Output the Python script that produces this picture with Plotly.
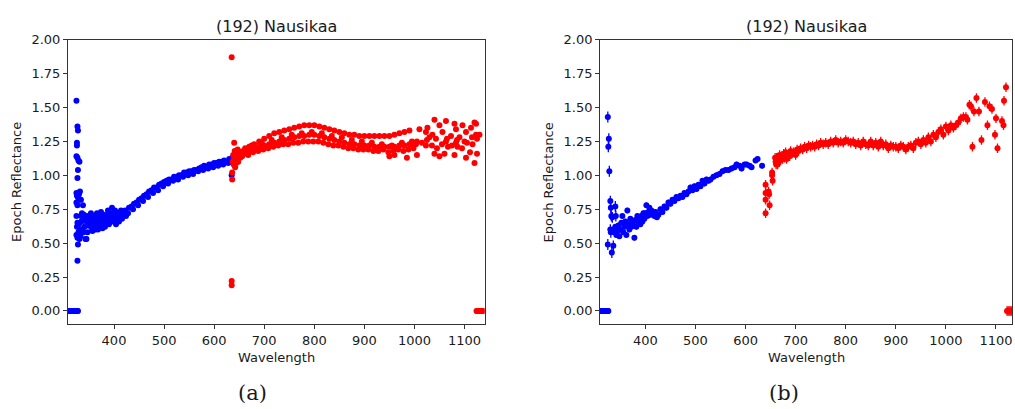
import plotly.graph_objects as go

# ---------------- data: panel (a) ----------------
a_blue_wl = [
    310, 311, 312, 313, 314, 315, 316, 317, 318, 319, 320, 321, 322, 323, 324, 325, 326, 327, 328,
    325, 327, 328, 326, 326, 325, 327, 329, 331, 328, 327, 325, 326, 328, 330, 332, 325, 327, 329, 331, 334,
    325, 327, 326, 325, 327, 329, 331, 333, 328, 327, 330, 332, 334, 336, 338, 340, 342, 335, 337, 339,
    341, 343, 345, 347, 349,
    345, 348, 350, 352, 354, 356, 358, 360, 362, 364, 366, 368, 370, 372, 374, 376, 378, 380, 382, 384,
    386, 388, 390, 392, 394, 396, 398, 400, 402, 404, 406, 408, 410, 412, 414, 416, 418, 420, 422, 424,
    355, 361, 367, 373, 379, 385, 391, 397, 403, 409, 357, 363, 371, 377, 383,
    430, 440, 450, 460, 470, 480, 490, 500, 510, 520, 530, 540, 550, 560, 570, 580, 590, 600, 610, 620, 630, 636,
    428, 438, 448, 458, 468, 478, 488, 498, 508, 518, 528, 538, 548, 558, 568, 578, 588, 598, 608, 618, 628, 634,
    435, 445, 455, 465, 475, 485, 495, 505, 515, 525, 535, 545, 555, 565, 575, 585, 595, 605, 615, 625,
    635,
]
a_blue_refl = [
    0.0, 0.0, 0.0, 0.0, 0.0, 0.0, 0.0, 0.0, 0.0, 0.0, 0.0, 0.0, 0.0, 0.0, 0.0, 0.0, 0.0, 0.0, 0.0,
    1.55, 1.36, 1.33, 1.24, 1.22, 1.14, 1.13, 1.11, 1.10, 1.04, 0.98, 0.87, 0.85, 0.84, 0.86, 0.88, 0.80, 0.78, 0.83, 0.82, 0.82,
    0.70, 0.65, 0.62, 0.56, 0.54, 0.58, 0.53, 0.55, 0.49, 0.37, 0.64, 0.60, 0.70, 0.72, 0.78, 0.71, 0.69, 0.66, 0.60, 0.58,
    0.62, 0.53, 0.53, 0.58, 0.63,
    0.66, 0.70, 0.63, 0.68, 0.72, 0.61, 0.66, 0.70, 0.64, 0.68, 0.72, 0.60, 0.65, 0.69, 0.73, 0.63, 0.67, 0.71, 0.62, 0.66,
    0.70, 0.74, 0.64, 0.68, 0.72, 0.76, 0.66, 0.70, 0.74, 0.64, 0.68, 0.72, 0.66, 0.70, 0.74, 0.68, 0.72, 0.71, 0.74, 0.70,
    0.65, 0.67, 0.69, 0.66, 0.65, 0.68, 0.66, 0.70, 0.69, 0.67, 0.59, 0.60, 0.62, 0.61, 0.64,
    0.76, 0.79, 0.82, 0.85, 0.88, 0.91, 0.93, 0.95, 0.97, 0.99, 1.00, 1.02, 1.03, 1.04, 1.05, 1.07, 1.08, 1.09, 1.10, 1.11, 1.12, 1.13,
    0.72, 0.75, 0.78, 0.81, 0.84, 0.87, 0.89, 0.92, 0.94, 0.96, 0.97, 0.99, 1.00, 1.01, 1.03, 1.04, 1.05, 1.06, 1.07, 1.08, 1.09, 1.10,
    0.77, 0.80, 0.83, 0.86, 0.89, 0.91, 0.94, 0.96, 0.97, 0.99, 1.00, 1.02, 1.03, 1.04, 1.06, 1.06, 1.08, 1.09, 1.10, 1.10,
    1.00,
]

a_red_wl = [
    635, 635, 635, 636, 636, 640,
    637, 638, 639, 640, 641, 642, 643, 644, 645, 646, 647, 648, 650, 652, 654, 656, 658, 660, 662, 664,
    670, 680, 690, 700, 710, 720, 730, 740, 750, 760, 770, 780, 790, 800, 810, 820, 830, 840, 850, 860,
    870, 880, 890, 900, 910, 920, 930, 940, 950, 960, 970, 980, 990,
    670, 680, 690, 700, 710, 720, 730, 740, 750, 760, 770, 780, 790, 800, 810, 820, 830, 840, 850, 860,
    870, 880, 890, 900, 910, 920, 930, 940, 950, 960, 970, 980, 990, 1000,
    668, 678, 688, 698, 708, 718, 728, 738, 748, 758, 768, 778, 788, 798, 808, 818, 828, 838, 848, 858,
    868, 878, 888, 898, 908, 918, 928, 938, 948, 958, 968, 978, 988, 998,
    675, 695, 715, 735, 755, 775, 795, 815, 835, 855, 875, 895, 915, 935, 955, 975, 995,
    950, 960, 985, 1005,
    1040, 1063, 1050, 1080, 1096, 1120, 1123, 1026, 1010, 1023, 1036, 1056, 1073, 1083, 1103, 1113, 1123, 1043, 1063, 1083,
    1100, 1116, 1040, 1050, 1060, 1080, 1103, 1111, 1125, 1120, 1003, 1023, 1067, 1086, 1030, 1090,
    1005, 1015, 1025, 1035, 1045, 1055, 1065, 1075, 1085, 1095, 1105, 1115, 1125, 1130,
    1124, 1126, 1128, 1130, 1132, 1134, 1136, 1138,
]
a_red_refl = [
    1.87, 0.22, 0.19, 0.97, 1.02, 1.24,
    1.10, 1.15, 1.08, 1.12, 1.18, 1.06, 1.14, 1.09, 1.16, 1.12, 1.19, 1.10, 1.15, 1.13, 1.17, 1.14, 1.18, 1.16, 1.20, 1.17,
    1.21, 1.23, 1.25, 1.27, 1.29, 1.31, 1.32, 1.33, 1.34, 1.35, 1.36, 1.37, 1.37, 1.37, 1.36, 1.35, 1.34, 1.33, 1.32, 1.31,
    1.30, 1.30, 1.29, 1.29, 1.29, 1.29, 1.29, 1.29, 1.29, 1.30, 1.31, 1.32, 1.33,
    1.18, 1.20, 1.21, 1.22, 1.23, 1.24, 1.25, 1.26, 1.27, 1.28, 1.29, 1.29, 1.30, 1.30, 1.29, 1.28, 1.27, 1.26, 1.25, 1.24,
    1.23, 1.23, 1.22, 1.22, 1.22, 1.21, 1.21, 1.21, 1.21, 1.21, 1.22, 1.22, 1.23, 1.23,
    1.15, 1.17, 1.18, 1.19, 1.20, 1.21, 1.22, 1.23, 1.23, 1.24, 1.24, 1.25, 1.25, 1.25, 1.25, 1.24, 1.23, 1.22, 1.22, 1.21,
    1.20, 1.20, 1.19, 1.19, 1.19, 1.18, 1.18, 1.19, 1.17, 1.18, 1.19, 1.18, 1.19, 1.20,
    1.22, 1.24, 1.26, 1.28, 1.30, 1.31, 1.32, 1.31, 1.29, 1.28, 1.26, 1.25, 1.24, 1.23, 1.22, 1.24, 1.25,
    1.14, 1.15, 1.13, 1.15,
    1.41, 1.40, 1.37, 1.38, 1.37, 1.39, 1.38, 1.35, 1.34, 1.32, 1.30, 1.32, 1.29, 1.34, 1.32, 1.35, 1.30, 1.27, 1.25, 1.24,
    1.25, 1.23, 1.16, 1.14, 1.16, 1.15, 1.13, 1.17, 1.16, 1.09, 1.23, 1.22, 1.21, 1.21, 1.28, 1.28,
    1.25, 1.24, 1.26, 1.22, 1.20, 1.23, 1.27, 1.22, 1.26, 1.20, 1.24, 1.28, 1.27, 1.30,
    0.0, 0.0, 0.0, 0.0, 0.0, 0.0, 0.0, 0.0,
]

# ---------------- data: panel (b) ----------------
b_blue_spike_wl = [325, 327, 326, 328, 330, 331, 332, 330, 331, 325, 333, 336, 340, 341, 334]
b_blue_spike_refl = [1.43, 1.27, 1.21, 1.03, 0.81, 0.76, 0.70, 0.60, 0.58, 0.49, 0.43, 0.48, 0.77, 0.70, 0.69]

b_blue_wl = [
    311, 312, 313, 314, 315, 316, 317, 318, 319, 320, 321, 322, 323, 324, 325, 326,
    336, 338, 340, 342, 344, 346, 348, 350, 352, 354, 356, 358, 360, 362, 364, 366, 368, 370, 372, 374,
    376, 378, 380, 382, 384, 386, 388, 390, 392, 394, 396, 398, 400, 402, 404, 406, 408, 410, 412,
    415, 418, 420, 423, 426,
    430, 434, 438, 442, 446, 450, 454, 458, 462, 466, 470, 474, 478, 482, 486, 490, 494, 498, 502, 506,
    510, 514, 518, 522, 526,
    530, 536, 542, 548, 554, 560, 566, 572, 578, 582, 588, 592, 598, 602, 608, 612, 620, 624, 633,
]
b_blue_refl = [
    0.0, 0.0, 0.0, 0.0, 0.0, 0.0, 0.0, 0.0, 0.0, 0.0, 0.0, 0.0, 0.0, 0.0, 0.0, 0.0,
    0.60, 0.58, 0.62, 0.56, 0.59, 0.63, 0.55, 0.60, 0.65, 0.70, 0.58, 0.62, 0.66, 0.56, 0.74, 0.64, 0.60, 0.68, 0.62, 0.66,
    0.63, 0.54, 0.67, 0.62, 0.70, 0.65, 0.68, 0.64, 0.70, 0.66, 0.72, 0.68, 0.72, 0.78, 0.70, 0.73, 0.76, 0.71, 0.74,
    0.72, 0.70, 0.73, 0.69, 0.71,
    0.75, 0.73, 0.77, 0.76, 0.80, 0.79, 0.82, 0.81, 0.84, 0.83, 0.85, 0.84, 0.87, 0.86, 0.88, 0.91, 0.89, 0.92, 0.90, 0.93,
    0.92, 0.96, 0.94, 0.97, 0.96,
    0.97, 0.99, 1.00, 1.01, 1.03, 1.04, 1.04, 1.05, 1.06, 1.08, 1.07, 1.05, 1.08, 1.08, 1.07, 1.06, 1.11, 1.12, 1.07,
]

b_red_wl = [
    640, 640, 646, 647, 640, 648, 640, 653, 654, 653, 659, 661,
    660, 662, 664, 666, 668, 670, 672, 674, 676, 678, 680, 682, 685, 688, 690, 693, 696, 700, 703, 706,
    710, 714, 718, 722, 726, 730, 734, 738, 742, 746, 750, 755, 760, 765, 770, 775, 780, 785, 790, 795,
    800, 805, 810, 815, 820, 825, 830, 835, 840, 845, 850, 855, 860, 865, 870, 875, 880, 885, 890, 895,
    900, 905, 910, 915, 920, 925, 930, 935, 940, 945, 950, 955, 960, 965, 970, 975, 980, 985, 990, 995,
    1000, 1005, 1010, 1015, 1020, 1025, 1030, 1035,
    1040, 1043, 1047, 1050, 1053, 1056, 1061, 1066, 1071, 1078, 1083, 1087, 1092, 1098, 1100, 1103,
    1112, 1115, 1116, 1120,
    1122, 1124, 1126, 1128, 1130, 1132,
]
b_red_refl = [
    0.93, 0.87, 0.88, 0.86, 0.82, 0.78, 0.72, 1.02, 0.96, 1.00, 1.13, 1.08,
    1.10, 1.13, 1.08, 1.12, 1.15, 1.11, 1.14, 1.12, 1.16, 1.13, 1.17, 1.12, 1.15, 1.14, 1.18, 1.16, 1.17, 1.15, 1.19, 1.18,
    1.20, 1.19, 1.21, 1.20, 1.22, 1.21, 1.22, 1.21, 1.23, 1.22, 1.24, 1.23, 1.24, 1.23, 1.25, 1.24, 1.26, 1.24, 1.25, 1.24,
    1.26, 1.25, 1.24, 1.25, 1.23, 1.24, 1.22, 1.25, 1.23, 1.22, 1.25, 1.22, 1.24, 1.21, 1.25, 1.22, 1.23, 1.20, 1.22, 1.21,
    1.21, 1.20, 1.22, 1.21, 1.19, 1.21, 1.22, 1.20, 1.24, 1.25, 1.23, 1.26, 1.24, 1.28, 1.25, 1.30, 1.28, 1.32, 1.34, 1.30,
    1.36, 1.33, 1.37, 1.35, 1.37, 1.39, 1.42, 1.43,
    1.43, 1.41, 1.52, 1.51, 1.21, 1.47, 1.57, 1.47, 1.26, 1.54, 1.37, 1.51, 1.49, 1.30, 1.42, 1.20,
    1.40, 1.37, 1.55, 1.65,
    0.0, 0.0, 0.0, 0.0, 0.0, 0.0,
]

y_tick_vals = [0.0, 0.25, 0.5, 0.75, 1.0, 1.25, 1.5, 1.75, 2.0]
x_tick_vals = [400, 500, 600, 700, 800, 900, 1000, 1100]
title_text = "(192) Nausikaa"
captions = ["(a)", "(b)"]

# ---------------- figure ----------------
BLUE = "#0000ff"
RED = "#ff0000"
FONT = "DejaVu Sans"
TXT = "#1a1a1a"

def pts(x, y, color, xa, ya, err):
    return go.Scatter(
        x=x, y=y, mode="markers", xaxis=xa, yaxis=ya, showlegend=False,
        marker=dict(color=color, size=6, line=dict(width=0)),
        error_y=dict(type="constant", value=err, color=color, thickness=1.3, width=0),
        hoverinfo="x+y",
    )

fig = go.Figure()
fig.add_trace(pts(a_blue_wl, a_blue_refl, BLUE, "x", "y", 0.015))
fig.add_trace(pts(a_red_wl, a_red_refl, RED, "x", "y", 0.015))
fig.add_trace(pts(b_blue_wl, b_blue_refl, BLUE, "x2", "y2", 0.02))
fig.add_trace(pts(b_blue_spike_wl, b_blue_spike_refl, BLUE, "x2", "y2", 0.04))
fig.add_trace(pts(b_red_wl, b_red_refl, RED, "x2", "y2", 0.035))

W, H = 1015, 409
ax_top = 1 - 33.3 / H
ax_bot = 1 - 323 / H
dom_a = [68 / W, 485 / W]
dom_b = [600.7 / W, 1013 / W]

axis_common = dict(
    showline=True, linecolor="#333333", linewidth=1, mirror=True,
    ticks="outside", ticklen=4, tickwidth=1, tickcolor="#333333",
    showgrid=False, zeroline=False,
    tickfont=dict(family=FONT, size=13, color=TXT),
)

fig.update_layout(
    width=W, height=H, autosize=False,
    margin=dict(l=0, r=0, t=0, b=0, pad=0),
    paper_bgcolor="white", plot_bgcolor="white",
    font=dict(family=FONT, size=13, color=TXT),
    xaxis=dict(domain=dom_a, anchor="y", range=[308, 1140], tickvals=x_tick_vals, **axis_common),
    yaxis=dict(domain=[ax_bot, ax_top], anchor="x", range=[-0.1, 2.0], tickvals=y_tick_vals,
               tickformat=".2f", **axis_common),
    xaxis2=dict(domain=dom_b, anchor="y2", range=[309.6, 1132], tickvals=x_tick_vals, **axis_common),
    yaxis2=dict(domain=[ax_bot, ax_top], anchor="x2", range=[-0.1, 2.0], tickvals=y_tick_vals,
                tickformat=".2f", **axis_common),
)

annotations = []
for dom, cap, ylab_x, cap_x in [(dom_a, captions[0], 17, 253), (dom_b, captions[1], 549, 785)]:
    cx = (dom[0] + dom[1]) / 2
    annotations.append(dict(text=title_text, x=cx, y=1 - 20 / H, xref="paper", yref="paper",
                            showarrow=False, xanchor="center", yanchor="middle",
                            font=dict(family=FONT, size=16, color=TXT)))
    annotations.append(dict(text="Wavelength", x=cx, y=1 - 356.5 / H, xref="paper", yref="paper",
                            showarrow=False, xanchor="center", yanchor="middle",
                            font=dict(family=FONT, size=13, color=TXT)))
    annotations.append(dict(text="Epoch Reflectance", x=ylab_x / W, y=1 - 178 / H, xref="paper", yref="paper",
                            showarrow=False, xanchor="center", yanchor="middle", textangle=-90,
                            font=dict(family=FONT, size=13, color=TXT)))
    annotations.append(dict(text=cap, x=cap_x / W, y=1 - 393 / H, xref="paper", yref="paper",
                            showarrow=False, xanchor="center", yanchor="middle",
                            font=dict(family="DejaVu Serif", size=21, color=TXT)))
fig.update_layout(annotations=annotations)

fig.write_html(
    "out.html",
    config={"responsive": False, "displayModeBar": False},
    post_script="document.body.style.margin='0px';document.body.style.overflow='hidden';",
)
